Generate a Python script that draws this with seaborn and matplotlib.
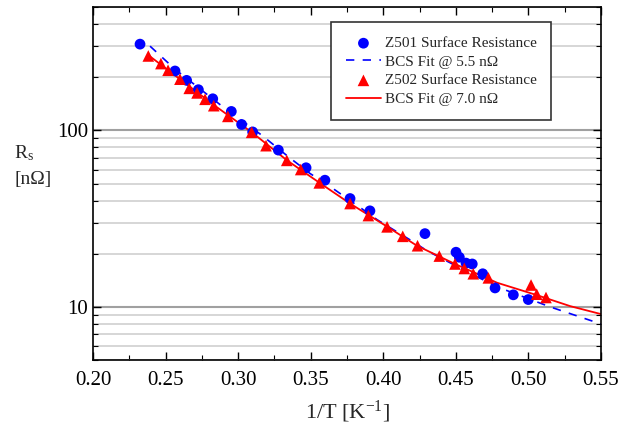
import numpy as np
import pandas as pd
import seaborn as sns
import matplotlib.pyplot as plt
from matplotlib.ticker import MultipleLocator, LogLocator, NullFormatter, FixedLocator

# Z501 measured surface resistance
z501_x = [0.2324, 0.2565, 0.2645, 0.2726, 0.2825, 0.2953, 0.3024, 0.3100, 0.3277, 0.3468,
          0.3598, 0.3771, 0.3908, 0.4287, 0.4501, 0.4524, 0.4570, 0.4613, 0.4685, 0.4770,
          0.4896, 0.4999]
z501_rs = [308, 217, 192, 170, 151, 128, 108, 98, 77.3, 61.4,
           52.2, 41.1, 35.0, 26.0, 20.4, 19.1, 17.7, 17.5, 15.4, 12.8,
           11.7, 11.0]

# Z502 measured surface resistance
z502_x = [0.2381, 0.2468, 0.2517, 0.2599, 0.2663, 0.2717, 0.2772, 0.2832, 0.2929, 0.3093,
          0.3192, 0.3335, 0.3431, 0.3559, 0.3771, 0.3897, 0.4026, 0.4134, 0.4236, 0.4386,
          0.4494, 0.4558, 0.4620, 0.4724, 0.5018, 0.5057, 0.5121]
z502_rs = [264, 239, 219, 195, 173, 163, 150, 138, 120, 97.5,
           81.9, 67.6, 60.0, 50.4, 38.5, 32.9, 28.4, 25.1, 22.2, 19.4,
           17.5, 16.5, 15.4, 14.6, 13.3, 11.8, 11.3]

# BCS fit curves
fit501_x = [0.2393, 0.2565, 0.2875, 0.3164, 0.3344, 0.3495, 0.3633, 0.3860, 0.3957, 0.4205,
            0.4301, 0.4646, 0.4804, 0.5149, 0.5500]
fit501_rs = [300, 222, 140, 93.7, 71.1, 57.0, 48.1, 35.6, 31.2, 23.4,
             20.8, 14.8, 12.8, 10.0, 8.0]
fit502_x = [0.2381, 0.2599, 0.2834, 0.3095, 0.3337, 0.3557, 0.3771, 0.4026, 0.4232, 0.4494,
            0.4784, 0.5052, 0.5287, 0.5500]
fit502_rs = [267, 195, 139, 97.4, 67.6, 50.7, 38.5, 28.5, 22.2, 17.5,
             13.7, 11.7, 10.1, 9.1]

sns.set_style("ticks")
plt.rcParams['font.family'] = ['Liberation Serif', 'DejaVu Serif']
plt.rcParams['mathtext.fontset'] = 'custom'
plt.rcParams['mathtext.rm'] = 'Liberation Serif'
plt.rcParams['mathtext.it'] = 'Liberation Serif'

fig = plt.figure(figsize=(6.34, 4.29), dpi=100)
ax = fig.add_axes([93 / 634, 1 - 360 / 429, 508 / 634, 353 / 429])

sns.scatterplot(x=z501_x, y=z501_rs, ax=ax, color='#0000ff', marker='o', s=60,
                edgecolor='none', label='Z501 Surface Resistance', zorder=3)
sns.lineplot(x=fit501_x, y=fit501_rs, ax=ax, color='#0000ff', linestyle=(0, (5, 5)),
             linewidth=1.2, label='BCS Fit @ 5.5 n\u03a9', zorder=2)
sns.scatterplot(x=z502_x, y=z502_rs, ax=ax, color='#ff0000', marker='^', s=70,
                edgecolor='none', label='Z502 Surface Resistance', zorder=3)
sns.lineplot(x=fit502_x, y=fit502_rs, ax=ax, color='#ff0000', linewidth=1.3,
             label='BCS Fit @ 7.0 n\u03a9', zorder=2)

ax.set_yscale('log')
ax.set_xlim(0.20, 0.55)
ax.set_ylim(5, 500)

ax.xaxis.set_major_locator(MultipleLocator(0.05))
ax.xaxis.set_minor_locator(MultipleLocator(0.025))
ax.xaxis.set_major_formatter(plt.FormatStrFormatter('%.2f'))
ax.yaxis.set_major_locator(FixedLocator([10, 100]))
ax.yaxis.set_major_formatter(plt.FormatStrFormatter('%d'))
ax.yaxis.set_minor_locator(LogLocator(base=10, subs=np.arange(2, 10)))
ax.yaxis.set_minor_formatter(NullFormatter())

ax.tick_params(which='both', direction='in', top=True, right=True, labelsize=15, colors='black')
ax.tick_params(which='major', length=6, width=1)
ax.tick_params(which='minor', length=3.5, width=0.8)
ax.tick_params(axis='x', pad=8)

ax.grid(True, which='major', axis='y', color='#a0a0a0', linewidth=1.5)
ax.grid(True, which='minor', axis='y', color='#d6d6d6', linewidth=1.4)
ax.grid(False, axis='x', which='both')
ax.set_axisbelow(True)
for sp in ax.spines.values():
    sp.set_color('black')
    sp.set_linewidth(1.2)

ax.set_xlabel('1/T [K$^{\\mathregular{-1}}$]', fontsize=16, labelpad=6)
ax.set_ylabel('')
fig.text(14 / 634, 1 - 166 / 429, 'R$_{\\mathregular{s}}$\n[n\u03a9]', fontsize=14,
         ha='left', va='center', linespacing=1.6)

leg = ax.legend(loc='upper right', bbox_to_anchor=(0.902, 0.9575), fontsize=11,
                frameon=True, fancybox=False, edgecolor='#333333', framealpha=1,
                handlelength=2.3, handletextpad=0.25, labelspacing=0.32,
                borderpad=0.95, borderaxespad=0)
leg.get_frame().set_linewidth(1.2)

fig.savefig('out.png', dpi=100)
